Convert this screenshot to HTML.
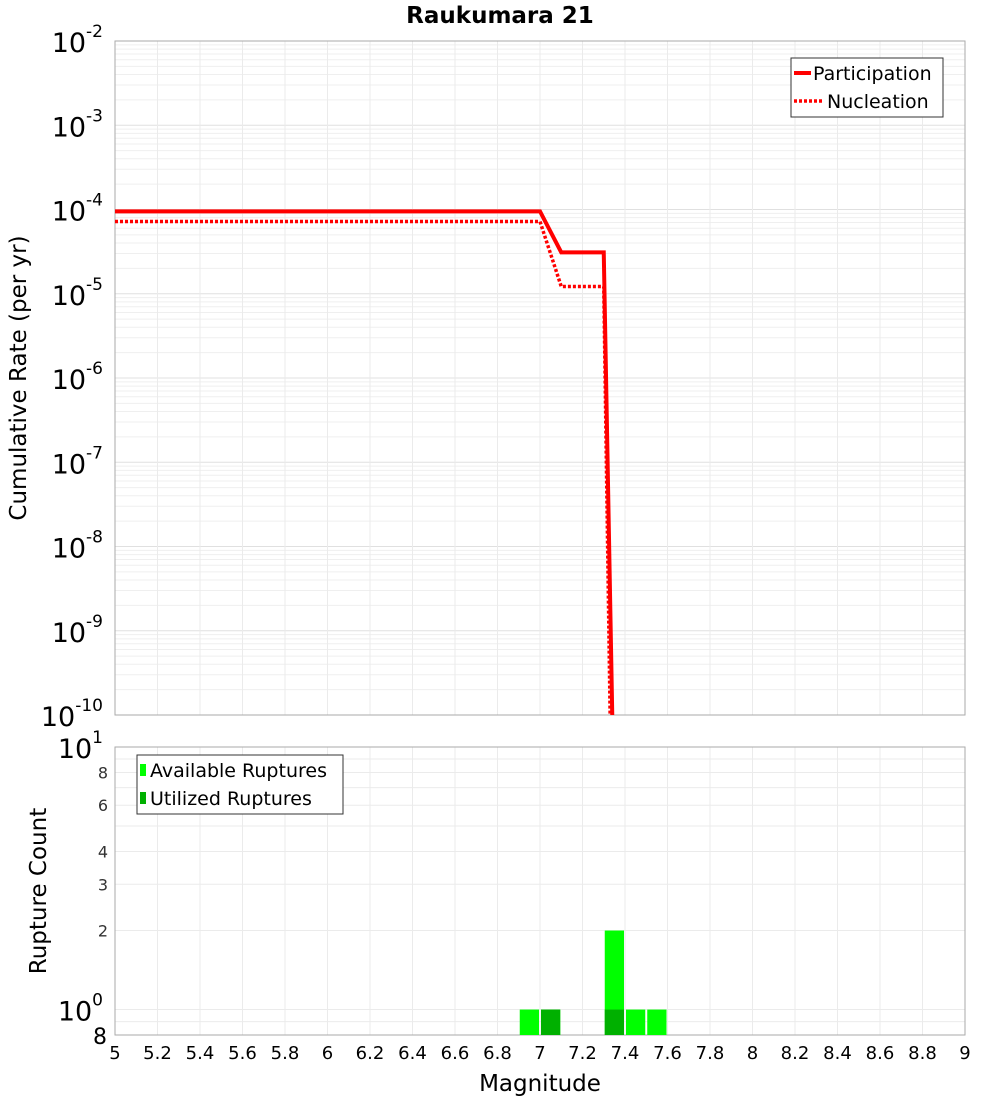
<!DOCTYPE html>
<html><head><meta charset="utf-8"><style>
body{margin:0;background:#fff;font-family:"DejaVu Sans","Liberation Sans",sans-serif}
svg text{font-family:"DejaVu Sans","Liberation Sans",sans-serif}
</style></head><body>
<svg id="c" width="1000" height="1100" xmlns="http://www.w3.org/2000/svg"></svg>
<script>
const partMags=[5,7.0,7.1,7.3,7.34];
const partRates=[9.5e-5,9.5e-5,3.1e-5,3.1e-5,1e-10];
const nuclMags=[5,7.0,7.1,7.3,7.33];
const nuclRates=[7.2e-5,7.2e-5,1.22e-5,1.22e-5,1e-10];
const binCenters=[6.95,7.05,7.35,7.45,7.55];
const availCounts=[1,1,2,1,1];
const usedCounts=[0,1,1,0,0];
const xTicks=[5,5.2,5.4,5.6,5.8,6,6.2,6.4,6.6,6.8,7,7.2,7.4,7.6,7.8,8,8.2,8.4,8.6,8.8,9];
const topExps=[-2,-3,-4,-5,-6,-7,-8,-9,-10];
const botTicks=[8,6,4,3,2];

const S=document.getElementById('c');const NS='http://www.w3.org/2000/svg';
function el(t,a,p){const e=document.createElementNS(NS,t);for(const k in a)e.setAttribute(k,a[k]);(p||S).appendChild(e);return e;}
const L=115,R=965,T1=41,B1=715,T2=747,B2=1035;
const X=m=>L+(m-5)/4*(R-L);
const Y1=v=>T1+(-2-Math.log10(v))/8*(B1-T1);
const Y2=v=>T2+(1-Math.log10(v))/(1-Math.log10(0.8))*(B2-T2);

let t=el('text',{x:500,y:23,'text-anchor':'middle','font-size':23,'font-weight':'bold'});t.textContent='Raukumara 21';


const g1=el('g',{});
for(let e=-10;e<-2;e++)for(let k=1;k<10;k++){const y=Y1(k*Math.pow(10,e));el('line',{x1:L,x2:R,y1:y,y2:y,stroke:k==1?'#e0e0e0':'#efefef','stroke-width':1},g1);}
xTicks.forEach(m=>{el('line',{x1:X(m),x2:X(m),y1:T1,y2:B1,stroke:'#ebebeb'},g1);el('line',{x1:X(m),x2:X(m),y1:T2,y2:B2,stroke:'#ebebeb'},g1);});
const g2=el('g',{});
[0.8,0.9,1,2,3,4,5,6,7,8,9,10].forEach(v=>el('line',{x1:L,x2:R,y1:Y2(v),y2:Y2(v),stroke:'#ebebeb'},g2));

let f=el('rect',{x:L,y:T1,width:R-L,height:B1-T1,fill:'none',stroke:'#aaa'});
f=el('rect',{x:L,y:T2,width:R-L,height:B2-T2,fill:'none',stroke:'#aaa'});

topExps.forEach(e=>{const tx=el('text',{x:103,y:Y1(Math.pow(10,e))+11,'text-anchor':'end','font-size':27});
tx.textContent='10';const s=el('tspan',{dy:-15,'font-size':17},tx);s.textContent=String(e);
});
let tx=el('text',{x:103,y:Y2(10)+11,'text-anchor':'end','font-size':27});tx.textContent='10';el('tspan',{dy:-15,'font-size':17},tx).textContent='1';

tx=el('text',{x:103,y:Y2(1)+11,'text-anchor':'end','font-size':27});tx.textContent='10';el('tspan',{dy:-15,'font-size':17},tx).textContent='0';

tx=el('text',{x:107,y:Y2(0.8)+9,'text-anchor':'end','font-size':22});tx.textContent='8';

botTicks.forEach(v=>{const a=el('text',{x:108,y:Y2(v)+6,'text-anchor':'end','font-size':16,fill:'#333'});a.textContent=v;
});
xTicks.forEach(m=>{const a=el('text',{x:X(m),y:1059,'text-anchor':'middle','font-size':18});a.textContent=String(Math.round(m*10)/10);
});

tx=el('text',{x:540,y:1091,'text-anchor':'middle','font-size':23});tx.textContent='Magnitude';
tx=el('text',{x:0,y:0,'text-anchor':'middle','font-size':23,transform:'translate(26,378) rotate(-90)'});tx.textContent='Cumulative Rate (per yr)';
tx=el('text',{x:0,y:0,'text-anchor':'middle','font-size':23,transform:'translate(46,891) rotate(-90)'});tx.textContent='Rupture Count';

const clip=el('clipPath',{id:'cp'});el('rect',{x:L,y:T1,width:R-L,height:B1-T1+2},clip);
let p=el('polyline',{points:partMags.map((m,i)=>X(m)+','+Y1(partRates[i])).join(' '),fill:'none',stroke:'#f00','stroke-width':4,'clip-path':'url(#cp)'});

p=el('polyline',{points:nuclMags.map((m,i)=>X(m)+','+Y1(nuclRates[i])).join(' '),fill:'none',stroke:'#f00','stroke-width':3.5,'stroke-dasharray':'3,2','clip-path':'url(#cp)'});


const bw=0.1*(R-L)/4;
binCenters.forEach((c,i)=>{const x=X(c)-bw/2+1;
 const b=el('rect',{x:x,y:Y2(availCounts[i]),width:bw-2,height:B2-Y2(availCounts[i]),fill:'#00ff00'});
 
 if(usedCounts[i]>0){const u=el('rect',{x:x,y:Y2(usedCounts[i]),width:bw-2,height:B2-Y2(usedCounts[i]),fill:'#00b000'});
 }});

let lg=el('g',{});
el('rect',{x:791,y:58,width:152,height:59,fill:'#fff',stroke:'#333'},lg);
el('line',{x1:794,x2:811,y1:73,y2:73,stroke:'#f00','stroke-width':4},lg);
el('line',{x1:794,x2:822,y1:101,y2:101,stroke:'#f00','stroke-width':3.5,'stroke-dasharray':'3,2'},lg);
el('text',{x:813,y:80,'font-size':19},lg).textContent='Participation';
el('text',{x:827,y:108,'font-size':19},lg).textContent='Nucleation';
lg=el('g',{});
el('rect',{x:137,y:755,width:206,height:59,fill:'#fff',stroke:'#333'},lg);
el('rect',{x:140,y:764,width:6,height:12,fill:'#00ff00'},lg);
el('rect',{x:140,y:792,width:6,height:12,fill:'#00b000'},lg);
el('text',{x:150,y:777,'font-size':19},lg).textContent='Available Ruptures';
el('text',{x:150,y:805,'font-size':19},lg).textContent='Utilized Ruptures';
</script>
</body></html>
